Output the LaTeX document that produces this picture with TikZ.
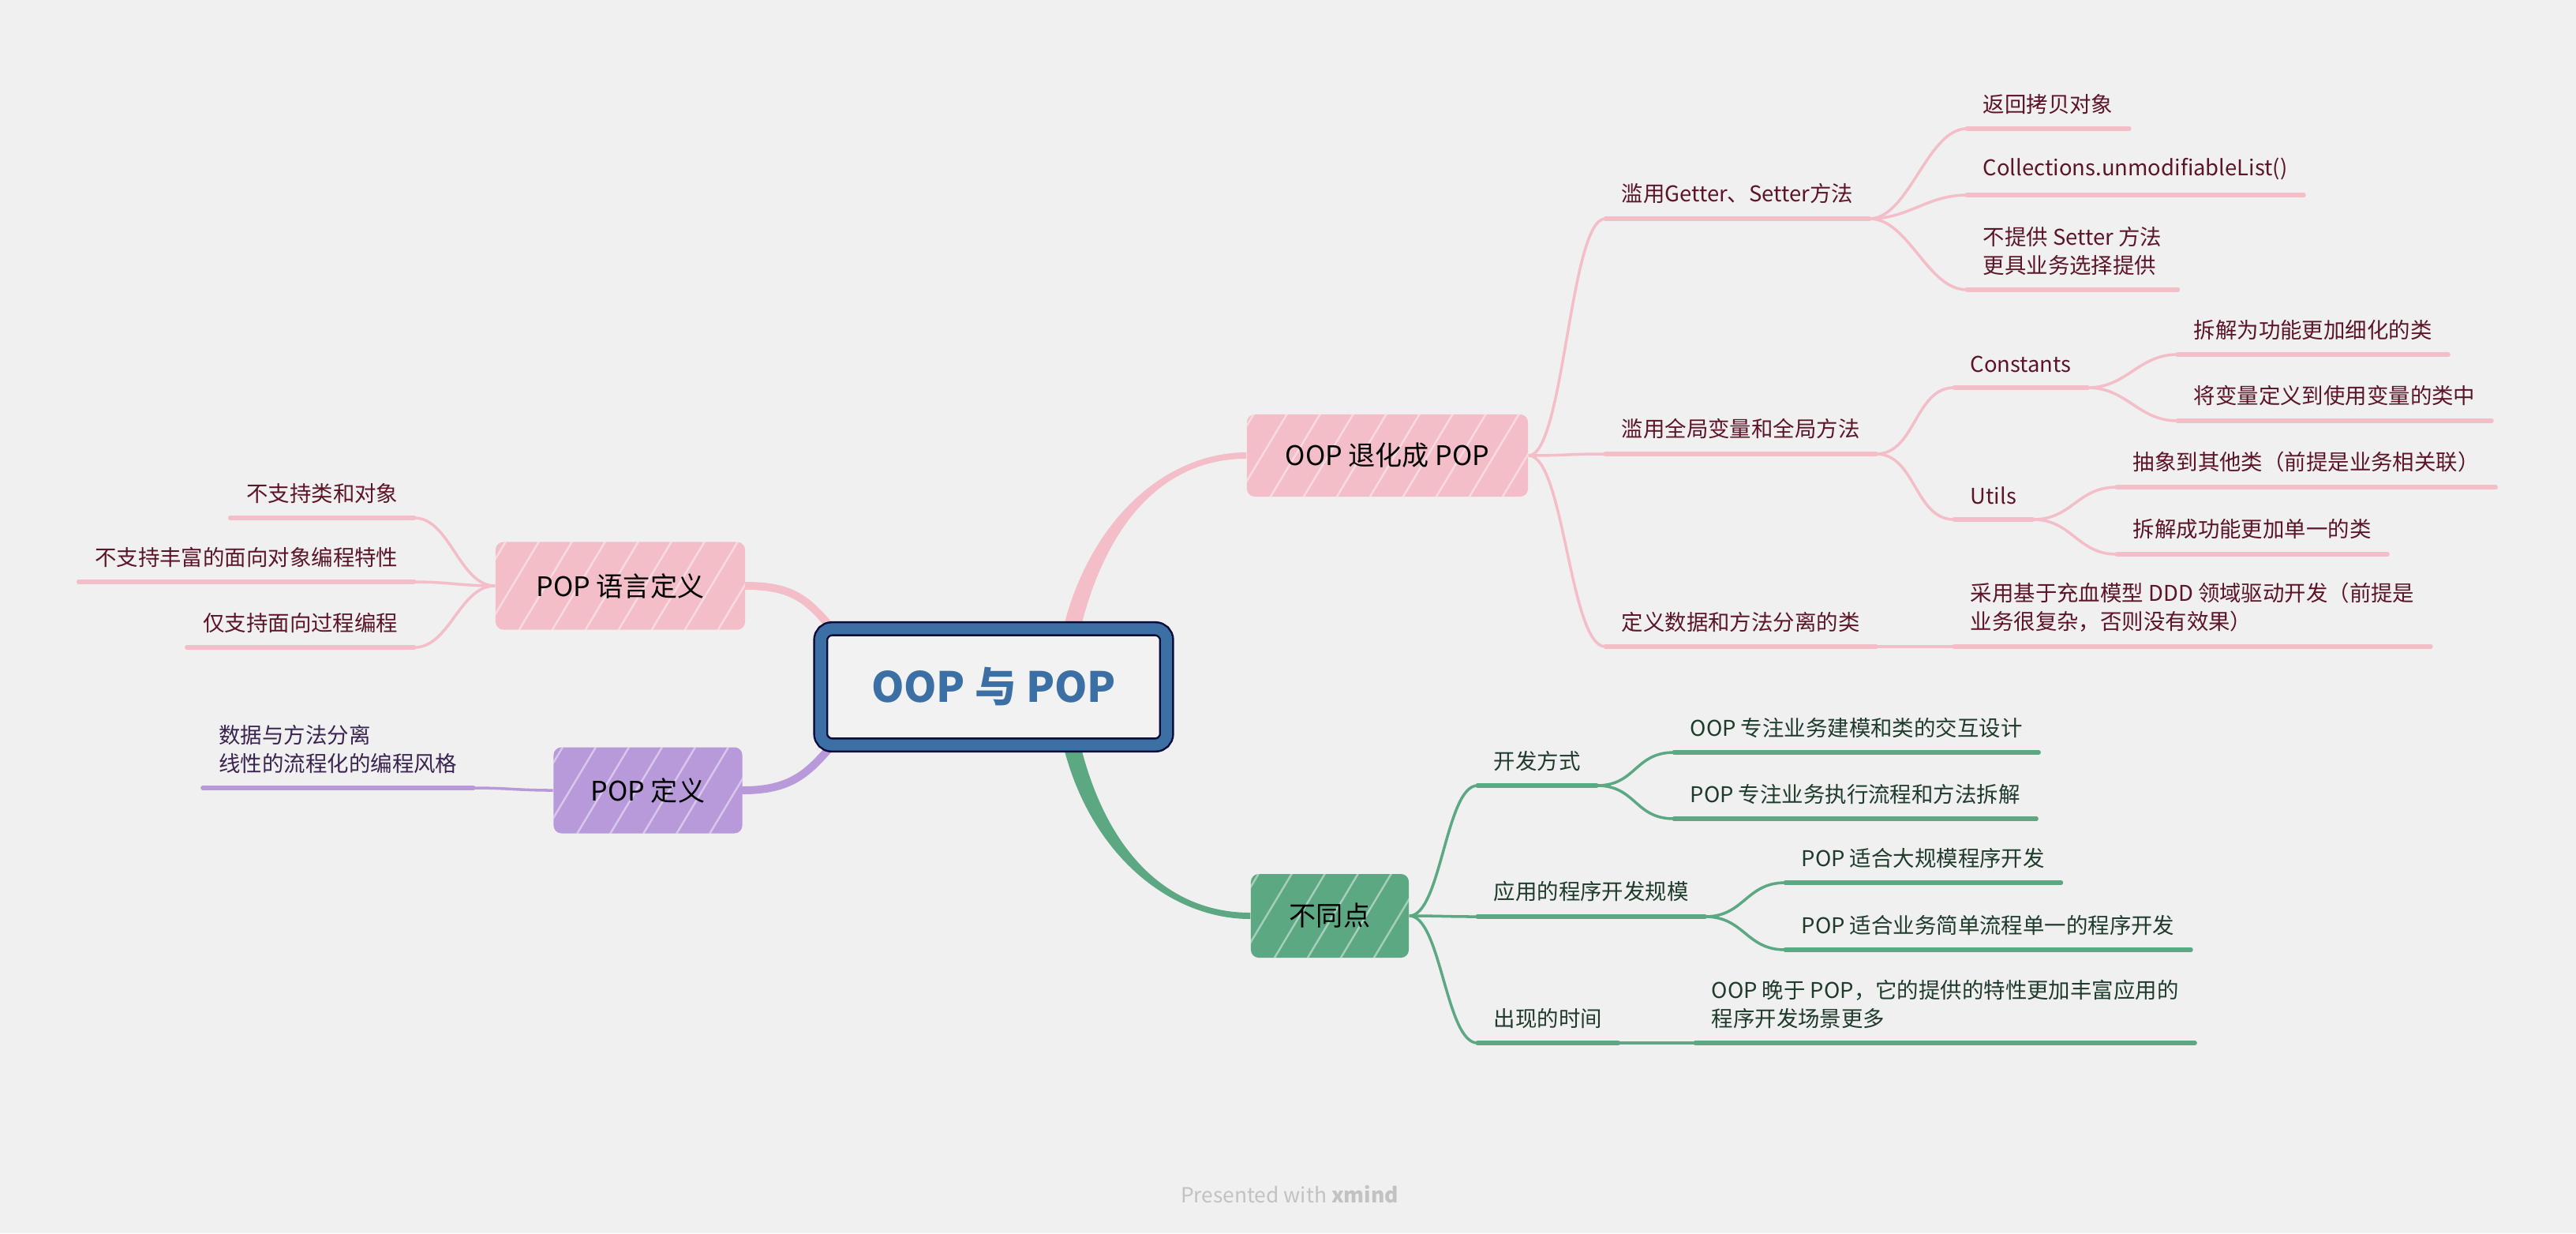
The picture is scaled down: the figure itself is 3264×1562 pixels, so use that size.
\documentclass[tikz,border=0pt]{standalone}
\usepackage{fontspec}
\setmainfont{Noto Sans CJK SC}
\usetikzlibrary{calc}
\pgfdeclarelayer{bg}
\pgfsetlayers{bg,main}
\definecolor{bgc}{HTML}{F0F0F0}
\definecolor{pinkc}{HTML}{F3BEC8}
\definecolor{greenc}{HTML}{5CA883}
\definecolor{purplec}{HTML}{B89ADB}
\definecolor{rootblue}{HTML}{3C6FA4}
\definecolor{rootnavy}{HTML}{0C0C3A}
\definecolor{rootfill}{HTML}{F2F2F2}
\definecolor{pinktxt}{HTML}{5C1527}
\definecolor{greentxt}{HTML}{1F3B2B}
\definecolor{purpletxt}{HTML}{3A2450}
\definecolor{wmc}{HTML}{C2C2C2}

\begin{document}
\begin{tikzpicture}[x=0.01cm,y=-0.01cm,
    mbox/.style={rounded corners=0.1cm,inner sep=0pt,text=black,font=\fontsize{9.7}{12}\selectfont,
        path picture={\foreach \i in {0,...,9}
            \draw[white,opacity=0.45,line width=0.7pt] ($(path picture bounding box.south west)+(\i*42-60,10)$) -- +(90,-150);}},
    sub/.style={inner xsep=0.2cm,inner ysep=0.18cm,align=left,font=\fontsize{7.8}{10.2}\selectfont},
    pinksub/.style={sub,anchor=south west,text=pinktxt},
    greensub/.style={sub,anchor=south west,text=greentxt},
    leftsub/.style={sub,anchor=south east,text=pinktxt},
    uline/.style={line width=1.5pt,line cap=round},
    bline/.style={line width=1pt},
    trunk/.style={line width=0.1cm,line cap=round}]

    \node[draw=rootnavy,double=rootblue,double distance=0.14cm,line width=0.025cm,fill=rootfill,
        rounded corners=0.14cm,minimum width=4.38cm,minimum height=1.47cm,text=rootblue,
        font=\fontsize{15}{18}\selectfont\bfseries] (root) at (1259,870) {OOP 与 POP};

    \node[mbox,fill=pinkc,minimum width=3.56cm,minimum height=1.04cm] (degen) at (1758,577) {OOP 退化成 POP};
    \node[mbox,fill=greenc,minimum width=2.0cm,minimum height=1.06cm] (diff) at (1685,1160) {不同点};
    \node[mbox,fill=pinkc,minimum width=3.16cm,minimum height=1.11cm] (lang) at (786,742) {POP 语言定义};
    \node[mbox,fill=purplec,minimum width=2.39cm,minimum height=1.09cm] (popdef) at (821,1001) {POP 定义};

    \node[pinksub] (g1) at (2034,277) {滥用Getter、Setter方法};
    \node[pinksub] (g1a) at (2492,163) {返回拷贝对象};
    \node[pinksub] (g1b) at (2492,247) {Collections.unmodifiableList()};
    \node[pinksub] (g1c) at (2492,367) {不提供 Setter 方法\\更具业务选择提供};
    \node[pinksub] (g2) at (2034,575) {滥用全局变量和全局方法};
    \node[pinksub] (g2a) at (2476,491) {Constants};
    \node[pinksub] (g2a1) at (2759,449) {拆解为功能更加细化的类};
    \node[pinksub] (g2a2) at (2759,533) {将变量定义到使用变量的类中};
    \node[pinksub] (g2b) at (2476,658) {Utils};
    \node[pinksub] (g2b1) at (2682,617) {抽象到其他类（前提是业务相关联）};
    \node[pinksub] (g2b2) at (2682,702) {拆解成功能更加单一的类};
    \node[pinksub] (g3) at (2034,819) {定义数据和方法分离的类};
    \node[pinksub] (g3a) at (2476,819) {采用基于充血模型 DDD 领域驱动开发（前提是\\业务很复杂，否则没有效果）};

    \node[greensub] (d1) at (1872,995) {开发方式};
    \node[greensub] (d1a) at (2121,953) {OOP 专注业务建模和类的交互设计};
    \node[greensub] (d1b) at (2121,1037) {POP 专注业务执行流程和方法拆解};
    \node[greensub] (d2) at (1872,1161) {应用的程序开发规模};
    \node[greensub] (d2a) at (2262,1118) {POP 适合大规模程序开发};
    \node[greensub] (d2b) at (2262,1203) {POP 适合业务简单流程单一的程序开发};
    \node[greensub] (d3) at (1872,1321) {出现的时间};
    \node[greensub] (d3a) at (2148,1321) {OOP 晚于 POP，它的提供的特性更加丰富应用的\\程序开发场景更多};

    \node[leftsub] (l1) at (525,656) {不支持类和对象};
    \node[leftsub] (l2) at (525,737) {不支持丰富的面向对象编程特性};
    \node[leftsub] (l3) at (525,820) {仅支持面向过程编程};
    \node[leftsub,text=purpletxt] (p1) at (600,998) {数据与方法分离\\线性的流程化的编程风格};

    \node[font=\fontsize{7.5}{9}\selectfont,text=wmc] (wm) at (1634,1513) {Presented with \textbf{xmind}};

    \foreach \n in {g1,g1a,g1b,g1c,g2,g2a,g2a1,g2a2,g2b,g2b1,g2b2,g3,g3a,l1,l2,l3}
        \draw[uline,pinkc] (\n.south west) -- (\n.south east);
    \foreach \n in {d1,d1a,d1b,d2,d2a,d2b,d3,d3a}
        \draw[uline,greenc] (\n.south west) -- (\n.south east);
    \draw[uline,purplec] (p1.south west) -- (p1.south east);

    \foreach \n in {g1,g2,g3}
        \draw[bline,pinkc] (degen.east) to[out=0,in=180,distance=0.45cm] (\n.south west);
    \foreach \p/\n in {g1/g1a,g1/g1b,g1/g1c,g2/g2a,g2/g2b,g2a/g2a1,g2a/g2a2,g2b/g2b1,g2b/g2b2,g3/g3a}
        \draw[bline,pinkc] (\p.south east) to[out=0,in=180,distance=0.5cm] (\n.south west);
    \foreach \n in {d1,d2,d3}
        \draw[bline,greenc] (diff.east) to[out=0,in=180,distance=0.4cm] (\n.south west);
    \foreach \p/\n in {d1/d1a,d1/d1b,d2/d2a,d2/d2b,d3/d3a}
        \draw[bline,greenc] (\p.south east) to[out=0,in=180,distance=0.5cm] (\n.south west);
    \foreach \n in {l1,l2,l3}
        \draw[bline,pinkc] (lang.west) to[out=180,in=0,distance=0.45cm] (\n.south east);
    \draw[bline,purplec] (popdef.west) to[out=180,in=0,distance=0.45cm] (p1.south east);

    \begin{pgfonlayer}{bg}
        \fill[bgc] (0,0) rectangle (3264,1562);
        \fill[pinkc] ($(root.37)+(-11,0)$) .. controls ($(root.37)+(24,-140)$) and ($(degen.west)+(-100,-4)$) .. ($(degen.west)+(0,-4)$)
            -- ($(degen.west)+(0,4)$) .. controls ($(degen.west)+(-100,4)$) and ($(root.37)+(46,-140)$) .. ($(root.37)+(11,0)$) -- cycle;
        \fill[greenc] ($(root.-37)+(-11,0)$) .. controls ($(root.-37)+(24,140)$) and ($(diff.west)+(-100,4)$) .. ($(diff.west)+(0,4)$)
            -- ($(diff.west)+(0,-4)$) .. controls ($(diff.west)+(-100,-4)$) and ($(root.-37)+(46,140)$) .. ($(root.-37)+(11,0)$) -- cycle;
        \draw[trunk,pinkc] (root.160) .. controls ($(root.160)+(-30,-35)$) and ($(lang.east)+(60,0)$) .. (lang.east);
        \draw[trunk,purplec] (root.200) .. controls ($(root.200)+(-30,35)$) and ($(popdef.east)+(60,0)$) .. (popdef.east);
    \end{pgfonlayer}
\end{tikzpicture}
\end{document}
